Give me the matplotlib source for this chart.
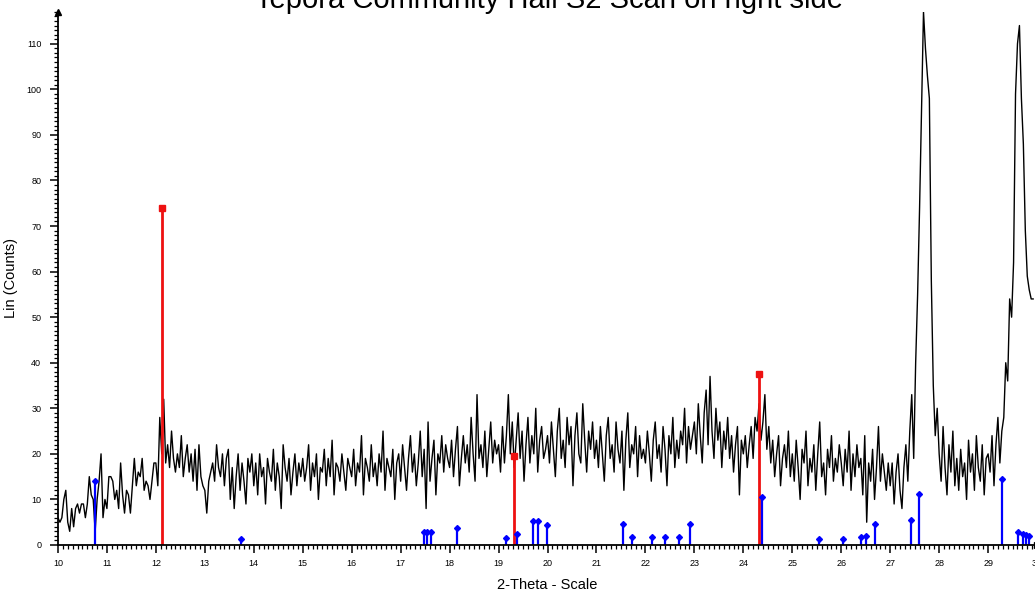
import numpy as np
import matplotlib
matplotlib.use('Agg')
import matplotlib.pyplot as plt
from matplotlib.ticker import MultipleLocator

plt.rcParams['font.family'] = ['Liberation Sans', 'DejaVu Sans']

# ---------------------------------------------------------------
# Data: measured scan (step 0.04 deg), one row per degree
# ---------------------------------------------------------------
scan_start = 10.0
scan_step = 0.04
counts_rows = [
    [6, 5, 6, 10, 12, 5, 3, 8, 4, 8, 9, 7, 9, 9, 6, 9, 15, 11, 10, 3, 10, 14, 20, 6, 10],        # 10
    [8, 15, 15, 14, 10, 12, 8, 18, 11, 7, 12, 11, 7, 13, 19, 13, 16, 15, 19, 12, 14, 13, 10, 14, 18],  # 11
    [18, 13, 28, 20, 32, 18, 22, 17, 25, 19, 16, 20, 17, 24, 15, 19, 22, 16, 20, 14, 21, 12, 22, 15, 13],  # 12
    [12, 7, 14, 16, 18, 14, 22, 17, 15, 20, 13, 19, 21, 10, 17, 8, 15, 20, 12, 18, 14, 9, 19, 16, 20],  # 13
    [13, 18, 11, 20, 15, 17, 9, 19, 16, 14, 21, 12, 18, 15, 8, 22, 17, 14, 19, 11, 16, 20, 13, 18, 15],  # 14
    [19, 14, 17, 22, 12, 18, 15, 20, 10, 17, 16, 21, 13, 19, 15, 23, 11, 18, 17, 14, 20, 16, 12, 19, 17],  # 15
    [15, 21, 13, 18, 16, 24, 11, 19, 17, 14, 22, 15, 18, 13, 20, 16, 25, 12, 19, 17, 15, 21, 10, 18, 20],  # 16
    [14, 22, 17, 12, 19, 24, 16, 20, 13, 18, 25, 15, 21, 8, 27, 14, 19, 23, 11, 20, 18, 24, 16, 22, 19],  # 17
    [17, 23, 15, 21, 26, 13, 19, 24, 18, 22, 16, 28, 20, 14, 33, 19, 22, 17, 25, 15, 21, 27, 18, 23, 20],  # 18
    [22, 16, 26, 18, 24, 33, 20, 27, 17, 23, 29, 19, 25, 14, 22, 28, 18, 24, 20, 30, 16, 23, 26, 19, 21],  # 19
    [24, 18, 27, 21, 15, 25, 30, 19, 23, 17, 28, 22, 26, 13, 24, 29, 20, 18, 31, 23, 16, 25, 21, 27, 19],  # 20
    [23, 17, 26, 20, 14, 24, 28, 19, 22, 16, 27, 21, 18, 25, 12, 23, 29, 17, 22, 20, 26, 15, 24, 19, 21],  # 21
    [18, 25, 20, 14, 23, 27, 19, 22, 16, 26, 21, 13, 24, 20, 28, 17, 23, 19, 25, 22, 30, 18, 26, 21, 24],  # 22
    [27, 20, 31, 24, 18, 29, 34, 22, 37, 25, 19, 30, 23, 27, 17, 25, 21, 28, 19, 24, 16, 22, 26, 11, 23],  # 23
    [20, 24, 17, 22, 26, 19, 28, 25, 31, 23, 27, 33, 21, 26, 18, 23, 15, 20, 24, 13, 19, 22, 17, 25, 15],  # 24
    [20, 14, 23, 17, 10, 21, 18, 25, 13, 19, 16, 22, 12, 20, 27, 15, 18, 11, 21, 17, 24, 14, 19, 16, 22],  # 25
    [18, 13, 21, 16, 25, 12, 20, 15, 22, 17, 19, 11, 24, 5, 18, 14, 21, 10, 17, 26, 14, 20, 16, 12, 18],  # 26
    [13, 18, 9, 16, 20, 12, 8, 17, 22, 14, 25, 33, 19, 40, 55, 74, 95, 117, 109, 103, 98, 58, 35, 24, 30],  # 27
    [20, 14, 26, 17, 11, 22, 16, 25, 13, 19, 12, 21, 15, 18, 10, 23, 16, 20, 12, 24, 17, 14, 22, 11, 19],  # 28
    [20, 16, 24, 13, 22, 28, 18, 25, 28, 40, 36, 54, 50, 62, 99, 110, 114, 98, 88, 69, 59, 56, 54, 54],  # 29
]
counts = np.concatenate([np.array(r, dtype=float) for r in counts_rows])
two_theta = scan_start + scan_step * np.arange(len(counts))

# reference pattern 1 (blue sticks)
ref1_pos = [10.76, 13.73, 17.47, 17.53, 17.61, 18.16, 19.16, 19.37, 19.71, 19.80, 19.98,
            21.55, 21.73, 22.14, 22.41, 22.69, 22.92, 24.39, 25.55, 26.04, 26.41, 26.51,
            26.69, 27.43, 27.59, 29.29, 29.61, 29.71, 29.78, 29.84]
ref1_int = [14.0, 1.3, 2.9, 2.9, 2.9, 3.7, 1.5, 2.4, 5.3, 5.3, 4.4,
            4.6, 1.8, 1.8, 1.8, 1.8, 4.6, 10.5, 1.3, 1.3, 1.8, 2.0,
            4.6, 5.5, 11.2, 14.5, 2.9, 2.4, 2.2, 2.0]

# reference pattern 2 (red sticks)
ref2_pos = [12.13, 19.31, 24.33]
ref2_int = [74.0, 19.5, 37.5]

# ---------------------------------------------------------------
# Plot
# ---------------------------------------------------------------
fig = plt.figure(figsize=(10.35, 5.94), dpi=100)
ax = fig.add_axes([0.056, 0.0825, 0.946, 0.8975])

ax.plot(two_theta, counts, color='black', linewidth=1.0)

ax.vlines(ref2_pos, 0, ref2_int, color='#ee1111', linewidth=2)
ax.plot(ref2_pos, ref2_int, 's', color='#ee1111', markersize=4)

ax.vlines(ref1_pos, 0, ref1_int, color='#0000ff', linewidth=1.6)
ax.plot(ref1_pos, ref1_int, 'D', color='#0000ff', markersize=3)

ax.set_xlim(10, 30)
ax.set_ylim(0, 117)

for side in ['top', 'right']:
    ax.spines[side].set_visible(False)
for side in ['left', 'bottom']:
    ax.spines[side].set_linewidth(1.3)

ax.xaxis.set_major_locator(MultipleLocator(1))
ax.xaxis.set_minor_locator(MultipleLocator(0.1))
ax.yaxis.set_major_locator(MultipleLocator(10))
ax.yaxis.set_minor_locator(MultipleLocator(1))
ax.tick_params(which='major', direction='out', length=6, width=1.1, labelsize=6.5)
ax.tick_params(axis='x', which='major', pad=4)
ax.tick_params(axis='y', which='major', pad=6)
ax.tick_params(which='minor', direction='out', length=3, width=0.9)

# axis arrows
ax.plot([0], [1], marker='^', color='black', markersize=4, transform=ax.transAxes, clip_on=False)
ax.plot([1], [0], marker='>', color='black', markersize=4, transform=ax.transAxes, clip_on=False)

ax.set_xlabel('2-Theta - Scale', fontsize=10.5)
ax.set_ylabel('Lin (Counts)', fontsize=10.5)
ax.xaxis.set_label_coords(0.5, -0.062)
ax.yaxis.set_label_coords(-0.041, 0.5)

fig.text(0.53, 0.9865, 'Tepora Community Hall S2 Scan on right side',
         ha='center', va='baseline', fontsize=21)

fig.savefig('out.png', dpi=100)
